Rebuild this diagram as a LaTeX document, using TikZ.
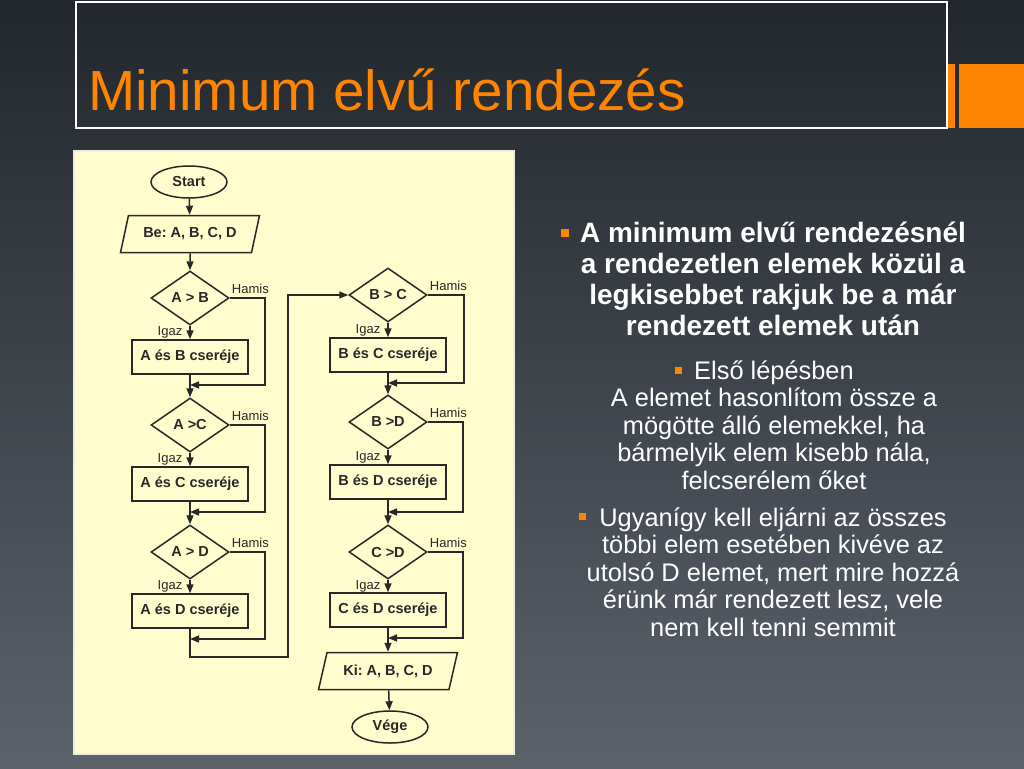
\documentclass[tikz,border=0pt]{standalone}
\usepackage{fontspec}
\setmainfont{Liberation Sans}
\usetikzlibrary{arrows.meta,shapes.geometric}
\frenchspacing

\definecolor{bgtop}{RGB}{34,39,45}
\definecolor{bgmid}{RGB}{42,48,54}
\definecolor{bgbot}{RGB}{92,98,106}
\definecolor{orng}{RGB}{255,133,0}
\definecolor{paper}{RGB}{255,252,206}
\definecolor{rim}{RGB}{236,236,232}
\definecolor{ink}{RGB}{40,40,40}

\newcommand{\obullet}[3]{\llap{\textcolor{orng}{\rule[#1]{#2}{#2}}\hspace{#3}}}

\begin{document}
\begin{tikzpicture}[x=1pt, y=-1pt, >={Triangle[length=9pt,width=7pt]},
  flow/.style={draw=ink, line width=1.5pt},
  box/.style={draw=ink, line width=1.5pt, text=ink, inner sep=0pt,
    font=\fontsize{14.5}{16}\selectfont\bfseries},
  term/.style={box, ellipse, minimum width=76pt, minimum height=32pt},
  io/.style={box, trapezium, trapezium left angle=64, trapezium right angle=116,
    trapezium stretches=true, minimum width=139pt, minimum height=37pt},
  cond/.style={box, diamond, minimum width=78pt, minimum height=54pt},
  swap/.style={box, rectangle, minimum width=116pt, minimum height=34pt},
  tag/.style={text=ink, inner sep=1pt, font=\fontsize{13}{14}\selectfont}]
\useasboundingbox (0,0) rectangle (1024,768);

% slide background
\shade[top color=bgtop, middle color=bgmid, bottom color=bgbot] (0,0) rectangle (1024,768);

% title
\draw[white, line width=2pt] (76,2) rectangle (947,128);
\fill[orng] (948,64) rectangle (955,128);
\fill[orng] (959,64) rectangle (1024,128);
\node[anchor=base west, inner sep=0pt, text=orng, font=\fontsize{56.6}{60}\selectfont] (title) at (88,110) {Minimum elvű rendezés};

% flowchart panel
\draw[rim, line width=2pt, fill=paper] (74,151) rectangle (514,754);

% left column
\node[term] (start) at (189,182) {Start};
\node[io] (be) at (190,234) {Be: A, B, C, D};
\node[cond] (ab) at (190,298) {A > B};
\node[swap] (abx) at (190,357) {A és B cseréje};
\node[cond] (ac) at (190,425) {A >C};
\node[swap] (acx) at (190,484) {A és C cseréje};
\node[cond] (ad) at (190,552) {A > D};
\node[swap] (adx) at (190,611) {A és D cseréje};

% right column
\node[cond] (bc) at (388,295) {B > C};
\node[swap] (bcx) at (388,355) {B és C cseréje};
\node[cond] (bd) at (388,422) {B >D};
\node[swap] (bdx) at (388,482) {B és D cseréje};
\node[cond] (cd) at (388,552) {C >D};
\node[swap] (cdx) at (388,610) {C és D cseréje};
\node[io] (ki) at (388,671) {Ki: A, B, C, D};
\node[term] (vege) at (390,727) {Vége};

% merge points
\coordinate (m1) at (190,385);
\coordinate (m2) at (190,512);
\coordinate (m3) at (190,639);
\coordinate (m4) at (388,383);
\coordinate (m5) at (388,512);
\coordinate (m6) at (388,638);
\coordinate (back) at (288,657);

% connectors, left
\draw[flow,->] (start) -- (be);
\draw[flow,->] (be) -- (ab);
\draw[flow,->] (ab) -- node[tag, left, xshift=-6pt] (iab) {Igaz} (abx);
\draw[flow,->] (ab.east) -- ++(35,0) |- (m1);
\draw[flow,->] (abx) -- (ac);
\draw[flow,->] (ac) -- node[tag, left, xshift=-6pt] (iac) {Igaz} (acx);
\draw[flow,->] (ac.east) -- ++(35,0) |- (m2);
\draw[flow,->] (acx) -- (ad);
\draw[flow,->] (ad) -- node[tag, left, xshift=-6pt] (iad) {Igaz} (adx);
\draw[flow,->] (ad.east) -- ++(35,0) |- (m3);
\draw[flow,->] (adx.south) |- (back) |- (bc.west);

% connectors, right
\draw[flow,->] (bc) -- node[tag, left, xshift=-6pt] (ibc) {Igaz} (bcx);
\draw[flow,->] (bc.east) -- ++(36,0) |- (m4);
\draw[flow,->] (bcx) -- (bd);
\draw[flow,->] (bd) -- node[tag, left, xshift=-6pt] (ibd) {Igaz} (bdx);
\draw[flow,->] (bd.east) -- ++(35,0) |- (m5);
\draw[flow,->] (bdx) -- (cd);
\draw[flow,->] (cd) -- node[tag, left, xshift=-6pt] (icd) {Igaz} (cdx);
\draw[flow,->] (cd.east) -- ++(35,0) |- (m6);
\draw[flow,->] (cdx) -- (ki);
\draw[flow,->] (ki) -- (vege);

% Hamis labels
\node[tag, anchor=base west, xshift=1pt, yshift=5pt] (hab) at (ab.east) {Hamis};
\node[tag, anchor=base west, xshift=1pt, yshift=5pt] (hac) at (ac.east) {Hamis};
\node[tag, anchor=base west, xshift=1pt, yshift=5pt] (had) at (ad.east) {Hamis};
\node[tag, anchor=base west, xshift=1pt, yshift=5pt] (hbc) at (bc.east) {Hamis};
\node[tag, anchor=base west, xshift=1pt, yshift=5pt] (hbd) at (bd.east) {Hamis};
\node[tag, anchor=base west, xshift=1pt, yshift=5pt] (hcd) at (cd.east) {Hamis};

% ---- text, right of the panel (placed by last baseline) ----
\node[anchor=base, align=center, inner sep=0pt, text=white,
  font=\fontsize{28}{31}\selectfont\bfseries] (lead) at (773,335)
  {\obullet{5pt}{8pt}{11pt}A minimum elvű rendezésnél\\
   a rendezetlen elemek közül a\\
   legkisebbet rakjuk be a már\\
   rendezett elemek után};

\node[anchor=base, align=center, inner sep=0pt, text=white,
  font=\fontsize{25.4}{27.5}\selectfont] (first) at (774,489)
  {\obullet{5pt}{7pt}{12pt}Első lépésben\\
   A elemet hasonlítom össze a\\
   mögötte álló elemekkel, ha\\
   bármelyik elem kisebb nála,\\
   felcserélem őket};

\node[anchor=base, align=center, inner sep=0pt, text=white,
  font=\fontsize{25.4}{27.5}\selectfont] (rest) at (773,636)
  {\obullet{6pt}{7pt}{13pt}Ugyanígy kell eljárni az összes\\
   többi elem esetében kivéve az\\
   utolsó D elemet, mert mire hozzá\\
   érünk már rendezett lesz, vele\\
   nem kell tenni semmit};

\end{tikzpicture}
\end{document}
